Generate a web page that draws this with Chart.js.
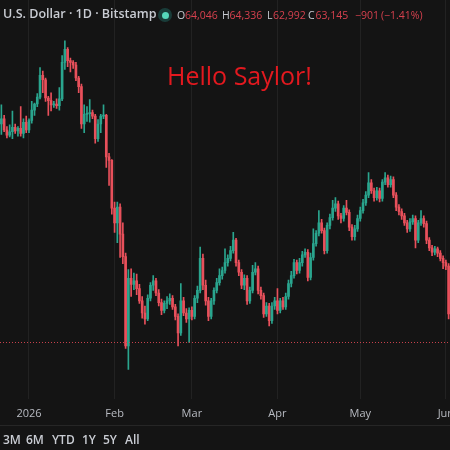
<!DOCTYPE html>
<html>
<head>
<meta charset="utf-8">
<script src="https://cdn.jsdelivr.net/npm/chart.js@4.4.1/dist/chart.umd.min.js"></script>
<style>
  html, body { margin:0; padding:0; background:#141414; }
  body { width:450px; height:450px; overflow:hidden; position:relative; font-family:"Open Sans", sans-serif; }
  #wrap { position:absolute; left:0; top:0; width:450px; height:428px; overflow:hidden; }
  #c { display:block; }
  .t { position:absolute; white-space:nowrap; line-height:1; }
  #title { left:3px; top:8px; font-size:12.5px; font-weight:600; color:#c9ccd3; }
  #dot { position:absolute; left:158px; top:8px; width:14px; height:14px; border-radius:50%; background:rgba(38,166,154,0.28); }
  #dot::after { content:""; position:absolute; left:3.5px; top:3.5px; width:7px; height:7px; border-radius:50%; background:#55d6ba; }
  .k { font-size:10.5px; color:#c9ccd3; top:10px; }
  .v { font-size:10.5px; color:#d6414e; top:10px; }
  #hello { left:167px; top:63px; font-size:25px; color:#e3191f; }
  #sep { position:absolute; left:0; top:425px; width:450px; height:1px; background:#262626; }
  .b { top:434px; font-size:12px; font-weight:600; color:#c9ccd3; }
</style>
</head>
<body>
<div id="wrap"><canvas id="c" width="480" height="428" style="width:480px;height:428px"></canvas></div>
<div id="sep"></div>
<div id="title" class="t">U.S. Dollar · 1D · Bitstamp</div>
<div id="dot"></div>
<div class="t k" style="left:177px">O</div><div class="t v" style="left:185px">64,046</div>
<div class="t k" style="left:222px">H</div><div class="t v" style="left:229.5px">64,336</div>
<div class="t k" style="left:267px">L</div><div class="t v" style="left:273px">62,992</div>
<div class="t k" style="left:308px">C</div><div class="t v" style="left:315.5px">63,145</div>
<div class="t v" style="left:355px">−901</div><div class="t v" style="left:381px">(−1.41%)</div>
<div id="hello" class="t">Hello Saylor!</div>
<div class="t b" style="left:3px">3M</div>
<div class="t b" style="left:26px">6M</div>
<div class="t b" style="left:52px">YTD</div>
<div class="t b" style="left:82px">1Y</div>
<div class="t b" style="left:103px">5Y</div>
<div class="t b" style="left:125px">All</div>
<script>
const dates = [
"2025-12-22","2025-12-23","2025-12-24","2025-12-25","2025-12-26","2025-12-27","2025-12-28","2025-12-29","2025-12-30","2025-12-31",
"2026-01-01","2026-01-02","2026-01-03","2026-01-04","2026-01-05","2026-01-06","2026-01-07","2026-01-08","2026-01-09","2026-01-10",
"2026-01-11","2026-01-12","2026-01-13","2026-01-14","2026-01-15","2026-01-16","2026-01-17","2026-01-18","2026-01-19","2026-01-20",
"2026-01-21","2026-01-22","2026-01-23","2026-01-24","2026-01-25","2026-01-26","2026-01-27","2026-01-28","2026-01-29","2026-01-30",
"2026-01-31","2026-02-01","2026-02-02","2026-02-03","2026-02-04","2026-02-05","2026-02-06","2026-02-07","2026-02-08","2026-02-09",
"2026-02-10","2026-02-11","2026-02-12","2026-02-13","2026-02-14","2026-02-15","2026-02-16","2026-02-17","2026-02-18","2026-02-19",
"2026-02-20","2026-02-21","2026-02-22","2026-02-23","2026-02-24","2026-02-25","2026-02-26","2026-02-27","2026-02-28","2026-03-01",
"2026-03-02","2026-03-03","2026-03-04","2026-03-05","2026-03-06","2026-03-07","2026-03-08","2026-03-09","2026-03-10","2026-03-11",
"2026-03-12","2026-03-13","2026-03-14","2026-03-15","2026-03-16","2026-03-17","2026-03-18","2026-03-19","2026-03-20","2026-03-21",
"2026-03-22","2026-03-23","2026-03-24","2026-03-25","2026-03-26","2026-03-27","2026-03-28","2026-03-29","2026-03-30","2026-03-31",
"2026-04-01","2026-04-02","2026-04-03","2026-04-04","2026-04-05","2026-04-06","2026-04-07","2026-04-08","2026-04-09","2026-04-10",
"2026-04-11","2026-04-12","2026-04-13","2026-04-14","2026-04-15","2026-04-16","2026-04-17","2026-04-18","2026-04-19","2026-04-20",
"2026-04-21","2026-04-22","2026-04-23","2026-04-24","2026-04-25","2026-04-26","2026-04-27","2026-04-28","2026-04-29","2026-04-30",
"2026-05-01","2026-05-02","2026-05-03","2026-05-04","2026-05-05","2026-05-06","2026-05-07","2026-05-08","2026-05-09","2026-05-10",
"2026-05-11","2026-05-12","2026-05-13","2026-05-14","2026-05-15","2026-05-16","2026-05-17","2026-05-18","2026-05-19","2026-05-20",
"2026-05-21","2026-05-22","2026-05-23","2026-05-24","2026-05-25","2026-05-26","2026-05-27","2026-05-28","2026-05-29","2026-05-30",
"2026-05-31","2026-06-01","2026-06-02"
];
const opens = [
88300,88900,87600,87000,87400,87900,87500,87800,87200,88500,
87600,88700,89900,90600,91400,93900,93400,91300,91000,90500,
90600,90400,91200,95400,96900,95600,95400,95100,93600,92600,
88300,89400,89500,89600,89200,86600,88300,89200,89300,84500,
84100,78600,76900,78700,75600,73000,62700,70500,69800,70200,
69300,67900,66500,65800,68200,69700,70200,68800,67700,66800,
67600,67900,68200,67200,66100,64200,67900,66500,65800,66800,
66100,68200,69100,72800,69700,67900,66100,67900,69100,70000,
70800,71400,72300,72800,73700,74900,72300,71200,69700,70500,
67900,69100,71200,71600,69100,68500,66400,67300,65600,67300,
67900,66800,67900,67200,68400,69900,70800,72300,71400,72300,
73200,73500,70600,72900,74500,75700,76900,76000,73700,76600,
77500,78600,79100,77700,77400,78600,78100,76400,75300,76200,
77400,78300,79200,80100,81500,80600,79800,80600,79700,81600,
82100,81300,81900,80100,78700,78200,77700,76900,76200,77000,
77400,74900,76900,77400,76800,74900,74000,73500,73900,73400,
72800,72300,71900
];
const highs = [
90500,89300,88000,88200,89800,88300,88000,90300,88900,89200,
88900,90900,90700,91800,94800,94400,93600,91500,91900,90900,
91200,92500,96200,97900,97100,95900,95600,95400,93800,92900,
90500,90300,91100,89900,89400,88800,89400,90500,89400,84900,
84200,79300,79300,79100,76900,73400,71500,71600,71100,71000,
69800,68400,67300,68600,70000,70800,70500,69200,68100,67900,
68400,68700,68500,67500,66400,69900,68300,67000,67100,67200,
68500,69600,74100,73300,70300,68300,68200,69400,70500,71600,
71800,73900,73200,74200,75800,75100,72600,71500,70900,70800,
69500,72000,72300,71900,69500,68800,67700,67600,67700,68300,
69300,68200,68300,68800,70300,71300,72700,72600,72800,73600,
73900,73800,73400,76200,76000,78300,77300,76300,76900,77900,
79500,79800,79400,78000,78900,79500,78400,76700,76600,77800,
78700,79600,80500,82700,81900,80900,81000,80900,81900,82700,
82400,82300,82200,80400,79000,78500,78000,77200,77400,77800,
77700,77200,78300,77700,77100,75200,74300,74200,74100,73700,
73100,72600,72200
];
const lows = [
87100,87400,86700,86800,86600,87200,86900,86900,86700,87300,
87300,88400,89300,90300,91200,91900,90900,89300,89800,90200,
90100,89900,91000,94600,94900,94300,94700,93300,91900,87800,
87300,88600,88500,88900,86100,86300,87300,88900,83300,81200,
77900,75800,74600,72900,72200,62400,60000,68400,69200,68600,
67600,65900,65200,65600,67900,69100,68500,67300,66300,66500,
67000,67500,66900,65700,62700,63900,66200,65400,63100,65700,
65800,67700,68800,69200,67400,65600,65800,67500,68800,69700,
70400,71100,71900,72500,73400,71900,70800,69300,69200,67500,
67600,68800,70900,68700,68100,66000,66100,65000,65300,66900,
66400,66500,66900,66900,68100,69500,70500,71000,71100,71900,
72900,70200,70300,72600,74200,75400,75700,73300,73400,76200,
77200,78200,77300,76900,77100,77800,76000,74900,74900,75900,
77100,78000,78900,79800,80300,79400,79500,79300,79400,81300,
81000,81000,79800,78300,77800,77300,76600,75800,75900,76700,
74000,74600,76600,76400,74500,73700,73100,73200,73000,72500,
71600,71500,65800
];
const closes = [
88900,87600,87000,87400,87900,87500,87800,87200,88500,87600,
88700,89900,90600,91400,93900,93400,91300,91000,90500,90600,
90400,91200,95400,96900,95600,95400,95100,93600,92600,88300,
89400,89500,89600,89200,86600,88300,89200,89300,84500,84100,
78600,76900,78700,75600,73000,62700,70500,69800,70200,69300,
67900,66500,65800,68200,69700,70200,68800,67700,66800,67600,
67900,68200,67200,66100,64200,67900,66500,65800,66800,66100,
68200,69100,72800,69700,67900,66100,67900,69100,70000,70800,
71400,72300,72800,73700,74900,72300,71200,69700,70500,67900,
69100,71200,71600,69100,68500,66400,67300,65600,67300,67900,
66800,67900,67200,68400,69900,70800,72300,71400,72300,73200,
73500,70600,72900,74500,75700,76900,76000,73700,76600,77500,
78600,79100,77700,77400,78600,78100,76400,75300,76200,77400,
78300,79200,80100,81500,80600,79800,80600,79700,81600,82100,
81300,81900,80100,78700,78200,77700,76900,76200,77000,77400,
74900,76900,77400,76800,74900,74000,73500,73900,73400,72800,
72300,71900,66400
];
const tickDates = ["2026-01-01","2026-02-01","2026-03-01","2026-04-01","2026-05-01","2026-06-01"];
const tickLabels = ["2026","Feb","Mar","Apr","May","Jun"];
const lastPrice = 63145;

const UP = "#2aa58e", DOWN = "#e8505b";
const colors = opens.map((o, i) => closes[i] >= o ? UP : DOWN);
const bodies = opens.map((o, i) => [o, closes[i]]);
const wicks = lows.map((l, i) => [l, highs[i]]);

const priceLine = {
  id: "priceLine",
  afterDatasetsDraw(chart) {
    const { ctx, chartArea, scales } = chart;
    const y = Math.round(scales.y.getPixelForValue(lastPrice)) + 0.5;
    ctx.save();
    ctx.strokeStyle = "#c7414c";
    ctx.lineWidth = 1;
    ctx.setLineDash([1, 2]);
    ctx.beginPath();
    ctx.moveTo(chartArea.left, y);
    ctx.lineTo(chartArea.right, y);
    ctx.stroke();
    ctx.restore();
  }
};

new Chart(document.getElementById("c"), {
  type: "bar",
  data: {
    labels: dates,
    datasets: [
      { data: bodies, backgroundColor: colors, barThickness: 2, grouped: false, minBarLength: 1, borderWidth: 0 },
      { data: wicks, backgroundColor: colors, barThickness: 1, grouped: false, borderWidth: 0 }
    ]
  },
  options: {
    responsive: false,
    animation: false,
    devicePixelRatio: 1,
    layout: { padding: { left: 0, right: 30, top: 0, bottom: 0 } },
    plugins: { legend: { display: false }, tooltip: { enabled: false } },
    scales: {
      x: {
        offset: true,
        grid: { offset: false, color: "#222222", drawTicks: false },
        border: { display: false },
        afterBuildTicks: (scale) => {
          scale.ticks = scale.ticks.filter(t => tickDates.includes(dates[t.value]));
        },
        ticks: {
          autoSkip: false, maxRotation: 0, padding: 8,
          color: "#b8bbc2",
          font: { family: "Open Sans", size: 11 },
          callback: (v) => tickLabels[tickDates.indexOf(dates[v])]
        }
      },
      y: {
        min: 56600, max: 102600,
        grid: { drawTicks: false, color: (c) => (c.tick && c.tick.value % 4000 === 0) ? "#1f1f1f" : "transparent" },
        border: { display: false },
        ticks: { display: false, stepSize: 4000 }
      }
    }
  },
  plugins: [priceLine]
});
</script>
</body>
</html>
